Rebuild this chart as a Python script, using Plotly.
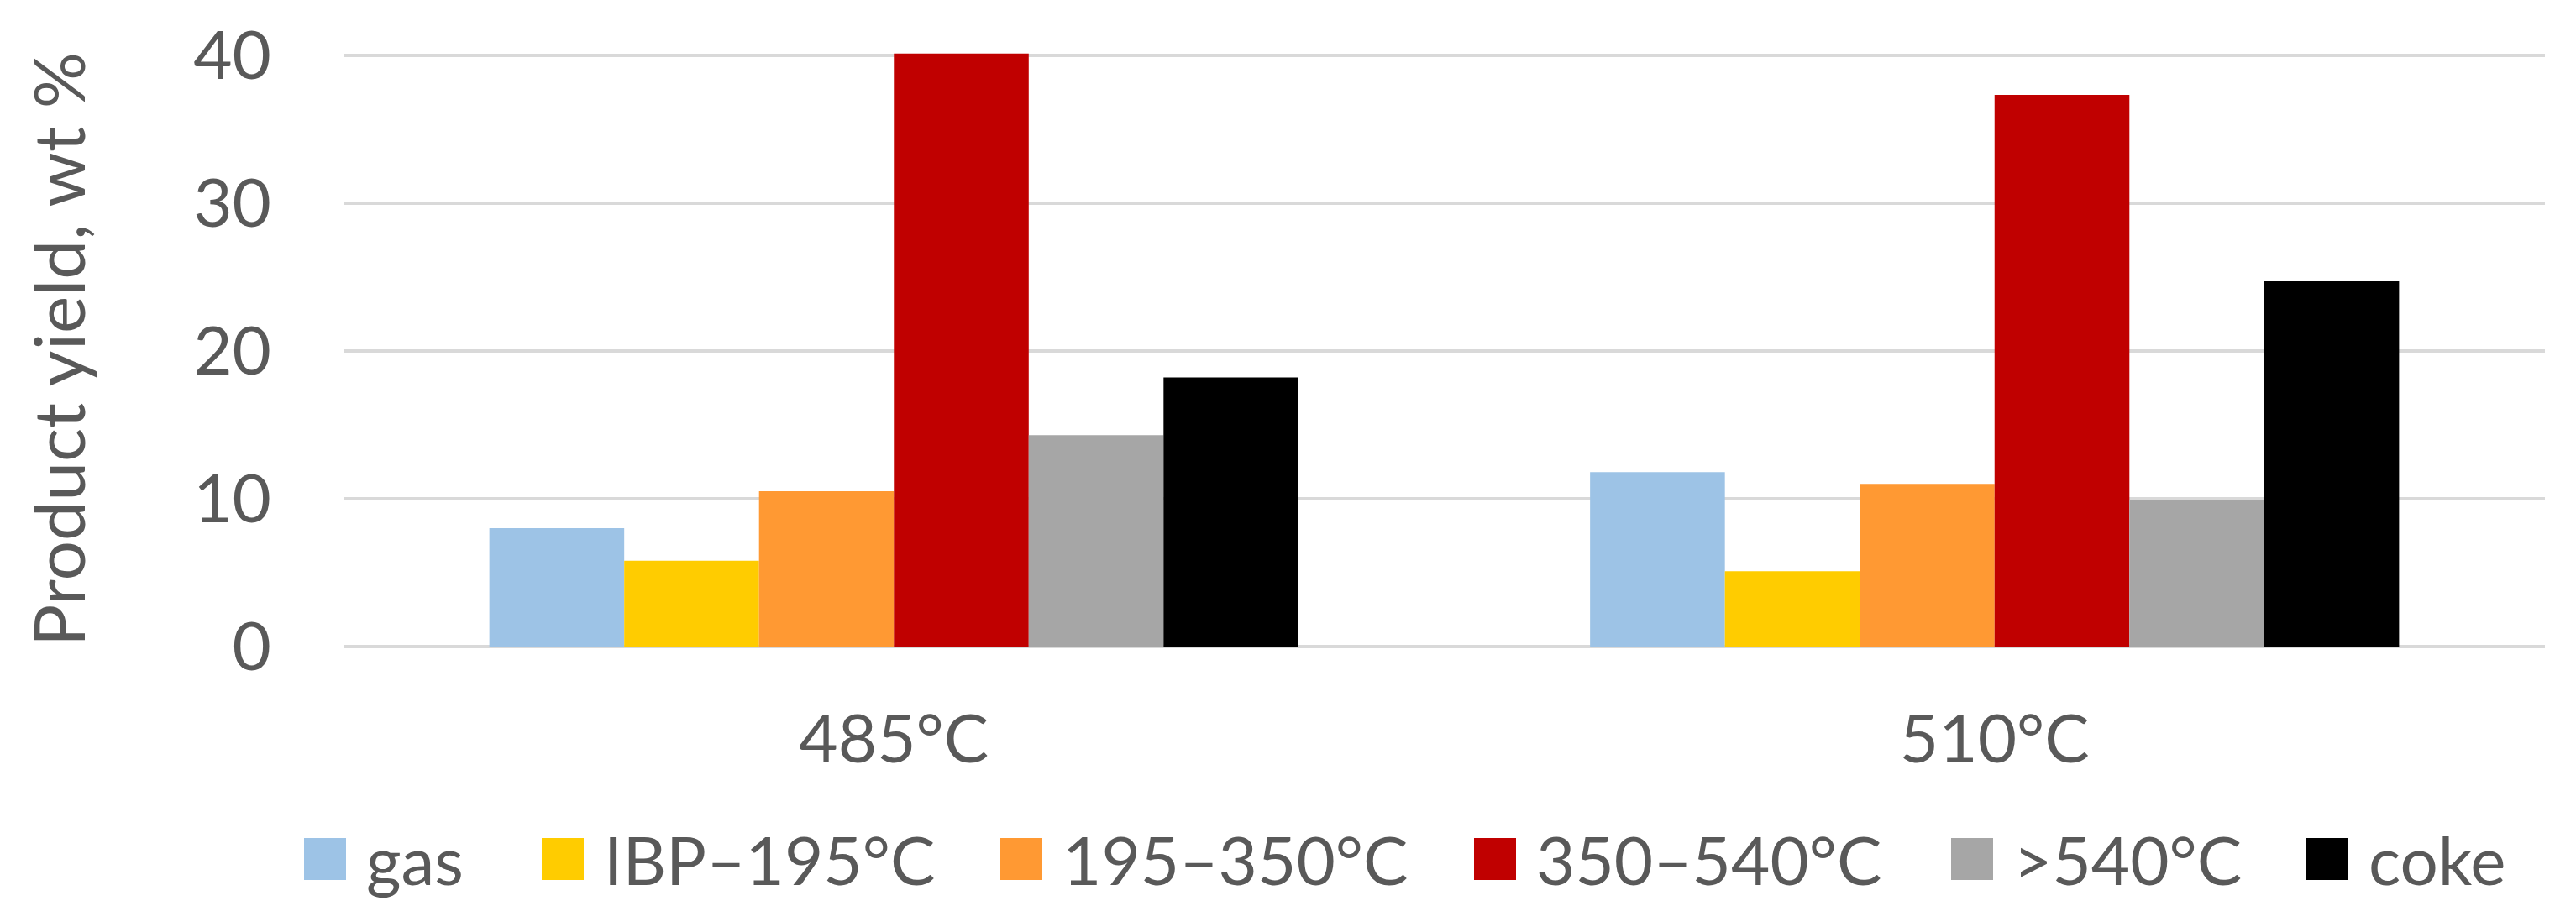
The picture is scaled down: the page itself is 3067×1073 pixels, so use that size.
import plotly.graph_objects as go

# temperatures on the x axis
categories = ["485°C", "510°C"]

series_names = ["gas", "IBP–195°C", "195–350°C", "350–540°C", ">540°C", "coke"]
series_colors = ["#9DC3E6", "#FFCC00", "#FF9933", "#C00000", "#A6A6A6", "#000000"]

gas = [8.0, 11.8]
ibp_195 = [5.8, 5.1]
c195_350 = [10.5, 11.0]
c350_540 = [40.1, 37.3]
above_540 = [14.3, 9.9]
coke = [18.2, 24.7]

y_ticks = [0, 10, 20, 30, 40]

series_values = [gas, ibp_195, c195_350, c350_540, above_540, coke]

# page geometry (pixels)
WIDTH, HEIGHT = 3067, 1073
L, R, T, B = 401, 45, 54, 311
PW = WIDTH - L - R
PH = HEIGHT - T - B

TEXT = "#595959"
FONT = "Lato"


def px_x(px):
    return (px - L) / PW


def px_y(py):
    return (HEIGHT - B - py) / PH


fig = go.Figure()
for name, color, vals in zip(series_names, series_colors, series_values):
    fig.add_trace(go.Bar(
        x=categories,
        y=vals,
        name=name,
        marker=dict(color=color, line=dict(width=0)),
        showlegend=False,
    ))

# legend drawn by hand so the swatches can be as large as the text
legend_left = [354, 637, 1183, 1747, 2315, 2738]
swatch = 50
legend_top = 990
for x0, name, color in zip(legend_left, series_names, series_colors):
    fig.add_shape(
        type="rect", xref="paper", yref="paper",
        x0=px_x(x0), x1=px_x(x0 + swatch),
        y0=px_y(legend_top + swatch), y1=px_y(legend_top),
        fillcolor=color, line=dict(width=0),
    )
    fig.add_annotation(
        xref="paper", yref="paper",
        x=px_x(x0 + swatch + 22), y=px_y(legend_top + swatch / 2),
        xanchor="left", yanchor="middle",
        text=name, showarrow=False,
        font=dict(family=FONT, size=80, color=TEXT),
    )

fig.update_xaxes(
    showgrid=False,
    showline=False,
    ticks="",
    ticklabelstandoff=57,
    tickfont=dict(family=FONT, size=80, color=TEXT),
)
fig.update_yaxes(
    range=[0, 40.2],
    tickvals=y_ticks,
    showgrid=True,
    gridcolor="#D9D9D9",
    gridwidth=4,
    zeroline=True,
    zerolinecolor="#D9D9D9",
    zerolinewidth=4,
    showline=False,
    ticks="",
    ticklabelstandoff=85,
    tickfont=dict(family=FONT, size=80, color=TEXT),
    title=dict(
        text="Product yield, wt %",
        font=dict(family=FONT, size=84, color=TEXT),
        standoff=100,
    ),
)
fig.update_layout(
    width=WIDTH,
    height=HEIGHT,
    margin=dict(l=L, r=R, t=T, b=B, autoexpand=False),
    barmode="group",
    bargap=0.265,
    bargroupgap=0,
    plot_bgcolor="#FFFFFF",
    paper_bgcolor="#FFFFFF",
    font=dict(family=FONT, color=TEXT),
)

fig.write_html("out.html")
